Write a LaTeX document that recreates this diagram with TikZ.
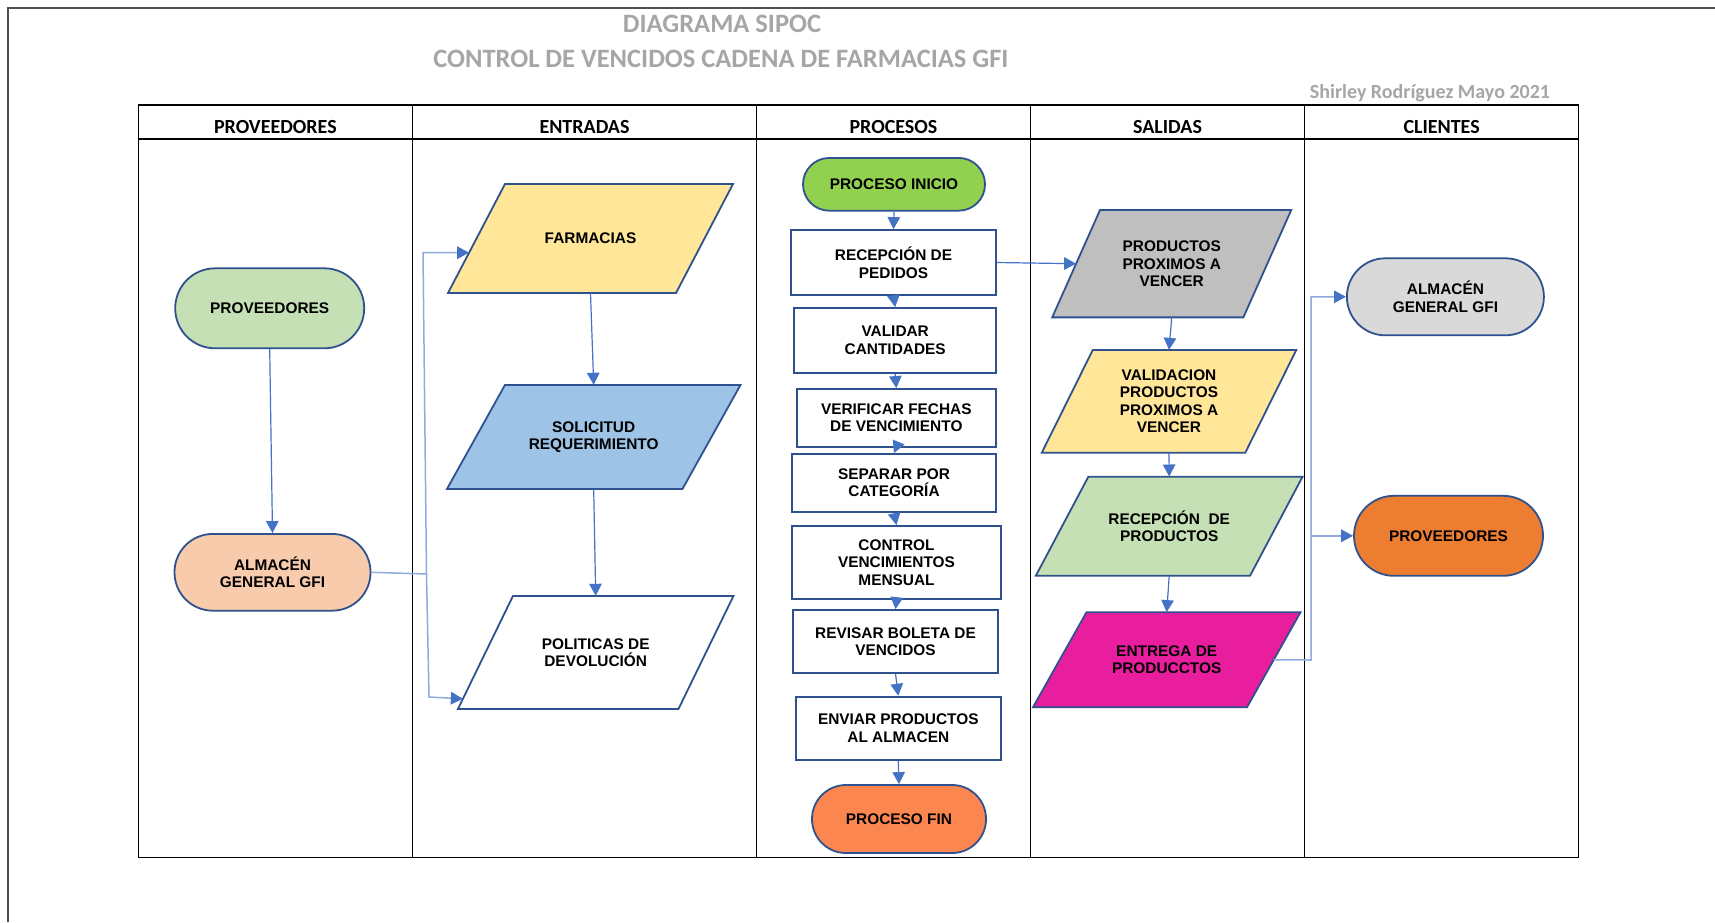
\documentclass[tikz,border=0pt]{standalone}
\usepackage{fontspec}
\setmainfont{Liberation Sans}
\newfontfamily\calib{Carlito}
\usetikzlibrary{arrows.meta,calc}
\definecolor{bord}{HTML}{2F528F}
\definecolor{conn}{HTML}{4472C4}
\definecolor{lconn}{HTML}{8FAADC}
\definecolor{titgray}{HTML}{A6A6A6}
\definecolor{framegray}{HTML}{505050}
\definecolor{cgreen}{HTML}{C5E0B4}
\definecolor{cpeach}{HTML}{F8CBAD}
\definecolor{clime}{HTML}{92D050}
\definecolor{csalmon}{HTML}{FC8650}
\definecolor{corange}{HTML}{ED7D31}
\definecolor{cyellow}{HTML}{FFE699}
\definecolor{cblue}{HTML}{9DC3E6}
\definecolor{cgray}{HTML}{BFBFBF}
\definecolor{clgray}{HTML}{D9D9D9}
\definecolor{cmagenta}{HTML}{E81E9F}
\tikzset{
  txt/.style={font=\bfseries\fontsize{15.4}{17.5}\selectfont, align=center, inner sep=0pt},
  proc/.style={txt, draw=bord, line width=1.8pt, fill=white},
  stad/.style={txt, draw=bord, line width=1.8pt},
  arr/.style={draw=conn, line width=1.2pt, -{Triangle[length=12pt,width=12.5pt]}},
  larr/.style={draw=lconn, line width=1.5pt, -{Triangle[length=12pt,width=12.5pt,color=conn]}},
  hdr/.style={font=\calib\bfseries\fontsize{20}{24}\selectfont, inner sep=0pt},
  tit/.style={font=\calib\bfseries\fontsize{26.5}{30}\selectfont, text=titgray, inner sep=0pt},
  tbl/.style={draw=black, line width=1.5pt},
}
\newcommand\mypara[8]{%
  \coordinate (#1-tl) at ({#2-#4/2+#6/2},{#3-#5/2});
  \coordinate (#1-tr) at ({#2+#4/2+#6/2},{#3-#5/2});
  \coordinate (#1-br) at ({#2+#4/2-#6/2},{#3+#5/2});
  \coordinate (#1-bl) at ({#2-#4/2-#6/2},{#3+#5/2});
  \filldraw[fill=#7, draw=bord, line width=1.8pt, line join=miter] (#1-tl) -- (#1-tr) -- (#1-br) -- (#1-bl) -- cycle;
  \node[txt, minimum width=#4pt, minimum height=#5pt] (#1) at (#2,#3) {#8};
}
\begin{document}
\begin{tikzpicture}[x=1pt,y=-1pt]
\useasboundingbox[fill=white] (0,0) rectangle (1715,922);
% outer frame
\draw[draw=framegray, line width=2pt] (8,922) -- (8,7.5) -- (1715,7.5);
% titles
\node[tit] (t1) at (722,24) {DIAGRAMA SIPOC};
\node[tit] (t2) at (721,59) {CONTROL DE VENCIDOS CADENA DE FARMACIAS GFI};
\node[font=\calib\bfseries\fontsize{20}{24}\selectfont, text=titgray, inner sep=0pt] (auth) at (1430,93) {Shirley Rodríguez Mayo 2021};
% table
\draw[tbl] (138.3,105) rectangle (1578.7,857.7);
\draw[tbl] (138.3,139) -- (1578.7,139);
\foreach \xx in {412.5,756.5,1030.5,1304.5} \draw[tbl] (\xx,105) -- (\xx,857.7);
\node[hdr] (h1) at (275.4,127) {PROVEEDORES};
\node[hdr] (h2) at (584.5,127) {ENTRADAS};
\node[hdr] (h3) at (893.5,127) {PROCESOS};
\node[hdr] (h4) at (1167.5,127) {SALIDAS};
\node[hdr] (h5) at (1441.6,127) {CLIENTES};
% column 1
\node[stad, fill=cgreen, minimum width=189pt, minimum height=80pt, rounded corners=39.9pt] (prov1) at (269.7,308.3) {PROVEEDORES};
\node[stad, fill=cpeach, minimum width=196pt, minimum height=76.7pt, rounded corners=38.2pt] (alm1) at (272.5,572.3) {ALMACÉN\\GENERAL GFI};
% column 2
\mypara{farm}{590.5}{238.5}{228}{109}{57}{cyellow}{FARMACIAS}
\mypara{sol}{593.7}{437}{235.5}{104}{58}{cblue}{SOLICITUD\\REQUERIMIENTO}
\mypara{poli}{595.7}{652.5}{220.5}{113}{55}{white}{POLITICAS DE\\DEVOLUCIÓN}
% column 3
\node[stad, fill=clime, minimum width=182pt, minimum height=52.7pt, rounded corners=26.2pt] (ini) at (894,184.3) {PROCESO INICIO};
\node[proc, minimum width=205pt, minimum height=65pt] (rec) at (893.5,262.5) {RECEPCIÓN DE\\PEDIDOS};
\node[proc, minimum width=201.7pt, minimum height=65pt] (val) at (895.2,340.5) {VALIDAR\\CANTIDADES};
\node[proc, minimum width=199.3pt, minimum height=57.7pt] (ver) at (896.3,417.8) {VERIFICAR FECHAS\\DE VENCIMIENTO};
\node[proc, minimum width=204pt, minimum height=57.7pt] (sep) at (894,482.8) {SEPARAR POR\\CATEGORÍA};
\node[proc, minimum width=209pt, minimum height=73pt] (con) at (896.5,562.5) {CONTROL\\VENCIMIENTOS\\MENSUAL};
\node[proc, minimum width=205pt, minimum height=63pt] (rev) at (895.5,641.5) {REVISAR BOLETA DE\\VENCIDOS};
\node[proc, minimum width=205.3pt, minimum height=63.3pt] (env) at (898.3,728.3) {ENVIAR PRODUCTOS\\AL ALMACEN};
\node[stad, fill=csalmon, minimum width=174pt, minimum height=68pt, rounded corners=33.9pt] (fin) at (899,819) {PROCESO FIN};
% column 4
\mypara{prod}{1171.7}{263.7}{191.2}{107.3}{47.8}{cgray}{PRODUCTOS\\PROXIMOS A\\VENCER}
\mypara{vali}{1169}{401.4}{203.5}{102.7}{51}{cyellow}{VALIDACION\\PRODUCTOS\\PROXIMOS A\\VENCER}
\mypara{recp}{1169.2}{526.2}{214.2}{99}{52.5}{cgreen}{RECEPCIÓN~ DE\\PRODUCTOS}
\mypara{entr}{1166.7}{659.8}{214}{95}{53.5}{cmagenta}{ENTREGA DE\\PRODUCCTOS}
% column 5
\node[stad, fill=clgray, minimum width=197pt, minimum height=77pt, rounded corners=38.4pt] (alm2) at (1445.4,296.8) {ALMACÉN\\GENERAL GFI};
\node[stad, fill=corange, minimum width=189pt, minimum height=80pt, rounded corners=39.9pt] (prov2) at (1448.5,535.8) {PROVEEDORES};
% connectors column 1-2
\draw[arr] (prov1.south) -- (alm1.north);
\coordinate (j1) at (426.5,574);
\coordinate (j1t) at (423,252.7);
\coordinate (j1b) at (429,697);
\draw[larr] (alm1.east) -- (j1) -- (j1t) -- ($(farm-tl)!0.63!(farm-bl)$);
\draw[larr] (j1) -- (j1b) -- ($(poli-tl)!0.91!(poli-bl)$);
\draw[arr] (farm.south) -- (sol.north);
\draw[arr] (sol.south) -- (poli.north);
% column 3
\foreach \a/\b in {ini/rec,rec/val,val/ver,ver/sep,sep/con,con/rev,rev/env,env/fin}
  \draw[arr] (\a.south) -- (\b.north);
\draw[arr] (rec.east) -- ($(prod-tl)!0.5!(prod-bl)$);
% column 4
\draw[arr] (prod.south) -- (vali.north);
\draw[arr] (vali.south) -- (recp.north);
\draw[arr] (recp.south) -- (entr.north);
% column 4-5
\coordinate (j2b) at (1311,660);
\coordinate (j2t) at (1311,296.8);
\coordinate (j2m) at (1311,535.8);
\draw[larr] ($(entr-tr)!0.5!(entr-br)$) -- (j2b) -- (j2t) -- (alm2.west);
\draw[larr] (j2m) -- (prov2.west);
\end{tikzpicture}
\end{document}
